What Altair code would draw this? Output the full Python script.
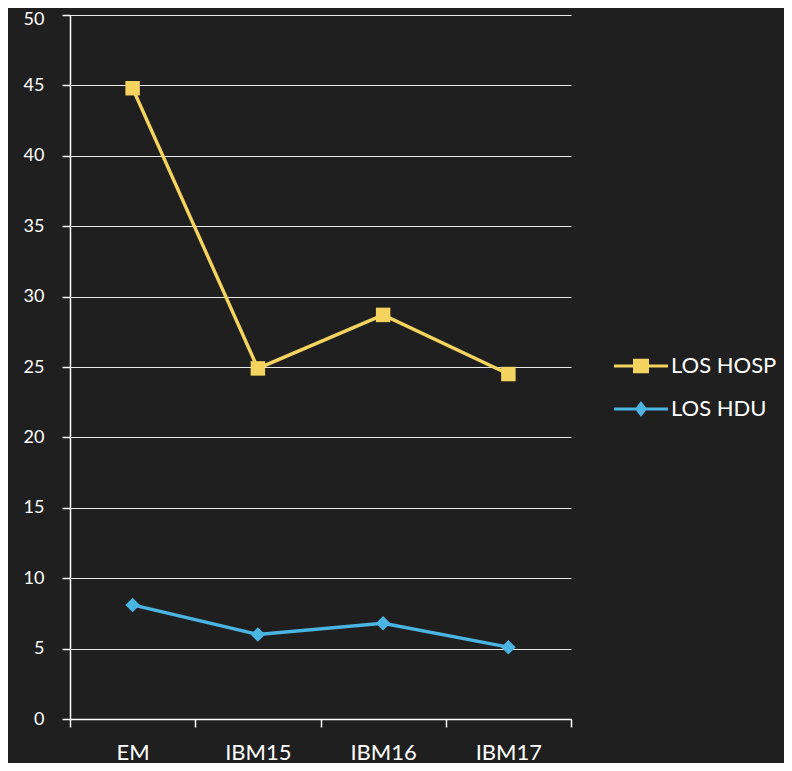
import altair as alt
import pandas as pd

categories = ["EM", "IBM15", "IBM16", "IBM17"]
series_names = ["LOS HOSP", "LOS HDU"]
los_hosp = [44.8, 24.9, 28.7, 24.5]
los_hdu = [8.1, 6.0, 6.8, 5.1]
colors = ["#F4D35E", "#4AB5E3"]

rows = []
for name, vals in zip(series_names, [los_hosp, los_hdu]):
    for c, v in zip(categories, vals):
        rows.append({"cat": c, "value": v, "series": name, "legend": name})
df = pd.DataFrame(rows)

FONT = "Lato"

x_enc = alt.X(
    "cat:N",
    sort=categories,
    bandPosition=0.5,
    scale=alt.Scale(type="band", paddingInner=0, paddingOuter=0),
    axis=alt.Axis(
        title=None, tickBand="extent", tickSize=8, tickColor="white",
        domainColor="white", domainWidth=1.5, tickWidth=1.5,
        labelColor="white", labelFont=FONT, labelFontSize=22, labelFontWeight="normal",
        labelPadding=15, labelAngle=0, grid=False,
    ),
)
y_enc = alt.Y(
    "value:Q",
    scale=alt.Scale(domain=[0, 50], nice=False),
    axis=alt.Axis(
        title=None, values=list(range(0, 51, 5)), tickSize=8, tickColor="white",
        domainColor="white", domainWidth=1.5, tickWidth=1.5,
        grid=True, gridColor="white", gridOpacity=0.9, gridWidth=1.2,
        labelColor="white", labelFont=FONT, labelFontSize=18,
        labelPadding=18,
        labelOffset={"condition": {"test": "datum.value == 50", "value": 4}, "value": 0},
    ),
)

color_main = alt.Color("series:N", scale=alt.Scale(domain=series_names, range=colors), legend=None)

lines = alt.Chart(df).mark_line(strokeWidth=3.4).encode(x=x_enc, y=y_enc, color=color_main, detail="series:N")
points = alt.Chart(df).mark_point(filled=True, size=210, opacity=1).encode(
    x=x_enc, y=y_enc, color=color_main,
    shape=alt.Shape("series:N", scale=alt.Scale(domain=series_names, range=["square", "diamond"]), legend=None),
)

path_hosp = "M-3.375,-0.2H3.375V0.2H-3.375Z M-1,-0.9H1V0.9H-1Z"
path_hdu = "M-3.375,-0.2H3.375V0.2H-3.375Z M0,-1L0.75,0L0,1L-0.75,0Z"

leg = alt.Legend(
    title=None, orient="none", legendX=560, legendY=340, padding=0,
    symbolSize=256, symbolOpacity=1, symbolStrokeWidth=0,
    labelColor="white", labelFont=FONT, labelFontSize=22, labelOffset=19,
    rowPadding=21,
)
legend_layer = alt.Chart(df).mark_point(filled=True, opacity=0, size=256).encode(
    x=x_enc, y=y_enc,
    color=alt.Color("legend:N", scale=alt.Scale(domain=series_names, range=colors), legend=leg),
    shape=alt.Shape("legend:N", scale=alt.Scale(domain=series_names, range=[path_hosp, path_hdu]), legend=leg),
)

chart = alt.layer(lines, points, legend_layer).resolve_scale(
    color="independent", shape="independent"
).properties(
    width=501, height=704,
    autosize=alt.AutoSizeParams(type="none"),
    padding={"left": 62, "top": 7, "right": 213, "bottom": 44},
    background="#1f1f1f",
).configure_view(stroke=None)

chart.save("out.html", embed_options={"renderer": "svg", "actions": False})
